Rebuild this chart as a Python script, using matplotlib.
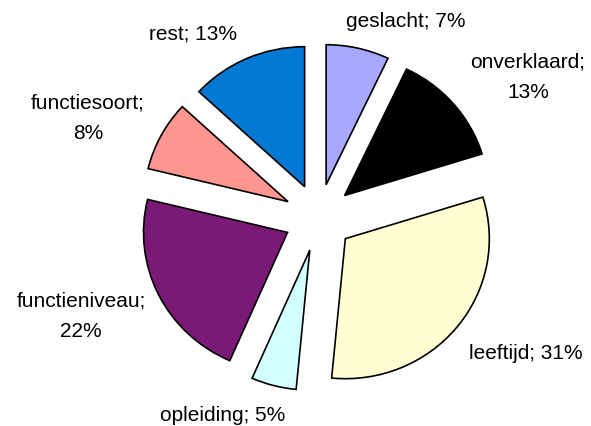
import matplotlib.pyplot as plt

plt.rcParams['font.family'] = ['Liberation Sans', 'DejaVu Sans']

# --- DATA (clockwise from 12 o'clock) ---
categories = ['geslacht', 'onverklaard', 'leeftijd', 'opleiding',
              'functieniveau', 'functiesoort', 'rest']
shares = [7, 13, 31, 5, 22, 8, 13]
colors = ['#a8a8ff', '#000000', '#ffffd2', '#d2ffff', '#7b1a76', '#ff968f', '#0078d4']

# label layout: wrap after the ';' or not, and where each label sits (data units)
wrapped = [False, True, False, False, True, True, False]
label_pos = [(0.608, 1.404), (1.455, 1.011), (1.441, -0.961), (-0.663, -1.404),
             (-1.649, -0.696), (-1.601, 0.718), (-0.872, 1.318)]

fig = plt.figure(figsize=(5.91, 4.27), dpi=100)
ax = fig.add_axes([0, 0, 1, 1])

ax.pie(shares, colors=colors, startangle=90, counterclock=False,
       explode=[0.24] * len(shares),
       wedgeprops=dict(edgecolor='black', linewidth=1.2))

for name, pct, wrap, (x, y) in zip(categories, shares, wrapped, label_pos):
    sep = ';\n' if wrap else '; '
    ax.text(x, y, f'{name}{sep}{pct}%', ha='center', va='center',
            fontsize=15, linespacing=1.75)

# slightly wider than tall, as in the original
ax.set_aspect('auto')
ax.set_xlim(-318.5 / 144, (591 - 318.5) / 144)
ax.set_ylim((218.5 - 427) / 140, 218.5 / 140)
ax.axis('off')

plt.savefig('out.png', dpi=100)
